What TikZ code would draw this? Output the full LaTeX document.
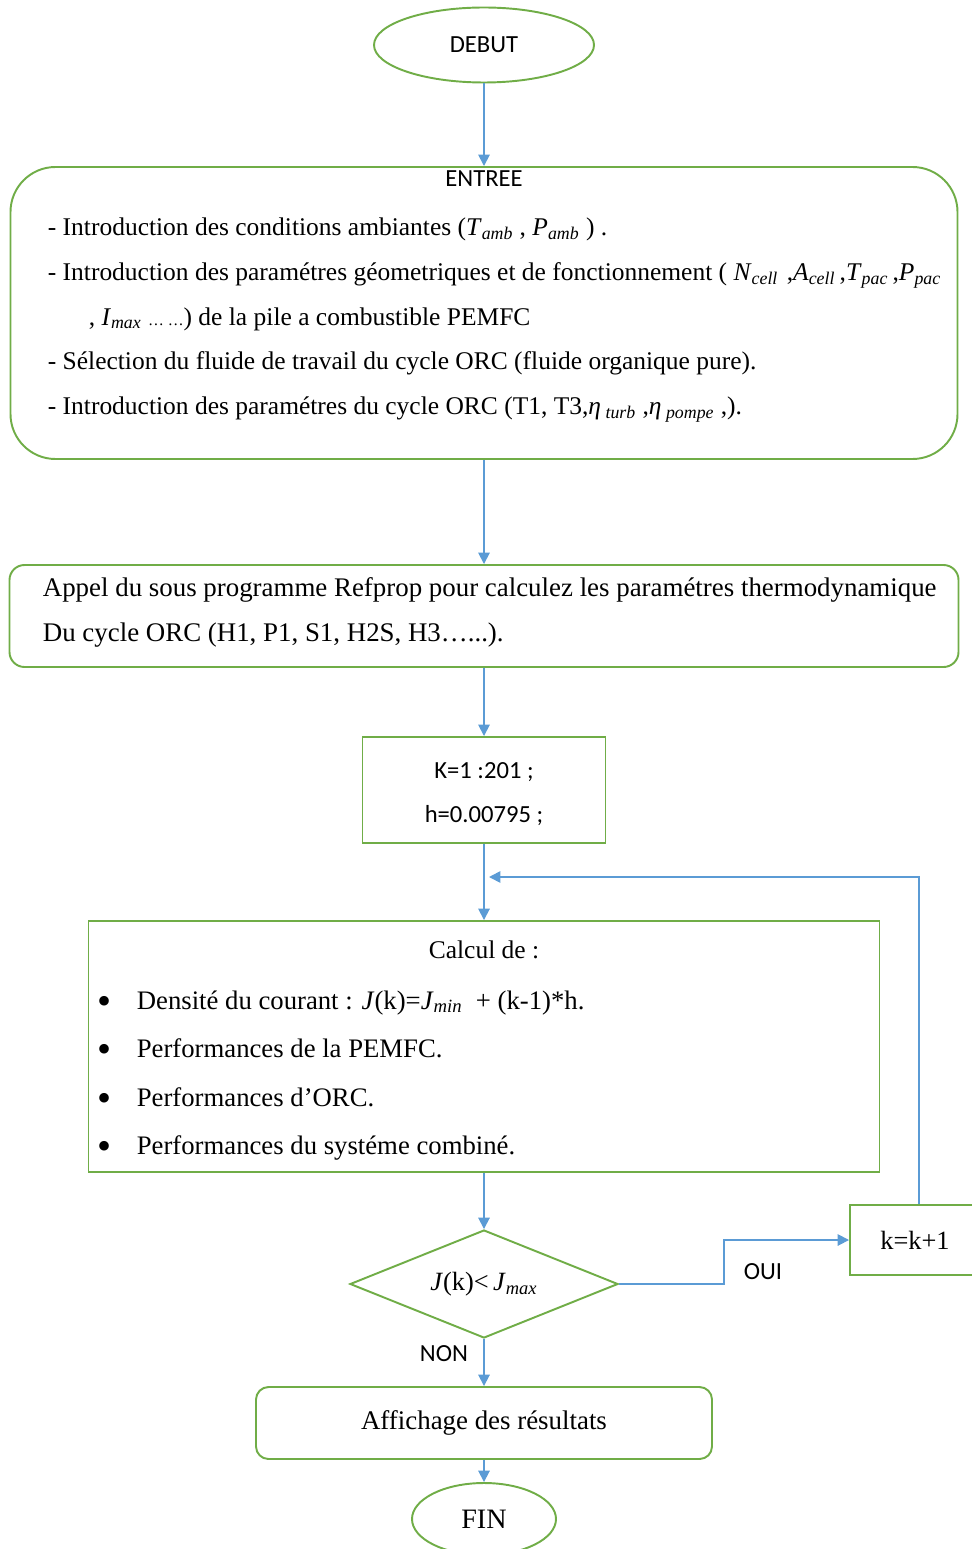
\documentclass[tikz,border=0pt]{standalone}
\usepackage{fontspec}
\setmainfont{Liberation Serif}
\newfontfamily\sansc{Carlito}
\usetikzlibrary{shapes.geometric,arrows.meta}
\definecolor{vert}{RGB}{112,173,71}
\definecolor{bleu}{RGB}{91,155,213}
\newcommand{\grandeur}[2]{\textit{#1}\textsubscript{\textit{#2}}}
\newcommand{\puce}{\makebox[0.78cm][l]{\raisebox{-0.4ex}{\scalebox{1.5}{•}}}}

\begin{document}
\begin{tikzpicture}[node distance=2cm, >={Triangle[length=6.5pt,width=6.5pt]},
    boite/.style={draw=vert, line width=1.1pt, rectangle, align=center},
    fleche/.style={->, draw=bleu, line width=1pt},
    serif/.style={font=\fontsize{14.5}{25.5}\selectfont, align=left, inner sep=0pt},
    sans/.style={font=\sansc\fontsize{14}{25.5}\selectfont, align=center, inner sep=0pt}]

    \useasboundingbox (0,0) rectangle (19.44,-30.98);

    % Nodes
    \node (debut) [boite, ellipse, minimum width=4.4cm, minimum height=1.5cm, sans] at (9.68,-0.9) {DEBUT};
    \node (entree) [boite, below of=debut, node distance=5.36cm, minimum width=18.94cm, minimum height=5.84cm, rounded corners=0.9cm] {};
    \node (refprop) [boite, below of=entree, node distance=6.06cm, minimum width=18.98cm, minimum height=2.04cm, rounded corners=0.3cm] {};
    \node (kbox) [boite, below of=refprop, node distance=3.48cm, minimum width=4.86cm, minimum height=2.12cm] {};
    \node (calcul) [boite, below of=kbox, node distance=5.13cm, minimum width=15.82cm, minimum height=5.02cm] {};
    \node (test) [boite, diamond, aspect=2.48, below of=calcul, node distance=4.75cm, minimum width=5.36cm, minimum height=2.16cm, inner sep=0pt, font=\fontsize{15}{18}\selectfont] {\textit{J}(k)<\,\grandeur{J}{max}};
    \node (affiche) [boite, below of=test, node distance=2.78cm, minimum width=9.12cm, minimum height=1.44cm, rounded corners=0.25cm, font=\fontsize{15.3}{19}\selectfont] {Affichage des résultats};
    \node (fin) [boite, ellipse, below of=affiche, node distance=1.92cm, minimum width=2.88cm, minimum height=1.44cm, font=\fontsize{16}{19}\selectfont] {FIN};
    \node (kinc) [boite, right of=test, node distance=8.62cm, yshift=0.88cm, minimum width=2.6cm, minimum height=1.4cm, font=\fontsize{15}{18}\selectfont] {k=k+1};

    % Texts
    \node (titre) [sans] at ([yshift=-0.26cm]entree.north) {ENTREE};
    \node (entreetxt) [serif, anchor=west] at ([xshift=0.76cm, yshift=-0.14cm]entree.west) {%
        - Introduction des conditions ambiantes (\grandeur{T}{amb} , \grandeur{P}{amb} ) .\\
        - Introduction des paramétres géometriques et de fonctionnement ( \grandeur{N}{cell}\,\,,\grandeur{A}{cell}\,,\grandeur{T}{pac}\,,\grandeur{P}{pac}\\
        \hspace*{0.82cm}, \grandeur{I}{max}\ {\small… …}) de la pile a combustible PEMFC\\
        - Sélection du fluide de travail du cycle ORC (fluide organique pure).\\
        - Introduction des paramétres du cycle ORC (T1, T3,\textit{η}\textsubscript{\textit{ turb}} ,\textit{η}\textsubscript{\textit{ pompe}} ,).};
    \node (refproptxt) [serif, anchor=west, font=\fontsize{15.3}{25.5}\selectfont] at ([xshift=0.68cm, yshift=0.07cm]refprop.west) {%
        Appel du sous programme Refprop pour calculez les paramétres thermodynamique\\
        Du cycle ORC (H1, P1, S1, H2S, H3…...).};
    \node (ktxt) [sans] at ([yshift=-0.08cm]kbox.center) {K=1 :201 ;\\h=0.00795 ;};
    \node (calcultitre) [serif] at ([yshift=-0.6cm]calcul.north) {Calcul de :};
    \node (calcultxt) [serif, anchor=west, font=\fontsize{15.2}{27.6}\selectfont] at ([xshift=0.2cm, yshift=-0.58cm]calcul.west) {%
        \puce Densité du courant : \textit{J}(k)=\grandeur{J}{min}\ \ + (k-1)*h.\\
        \puce Performances de la PEMFC.\\
        \puce Performances d’ORC.\\
        \puce Performances du systéme combiné.};

    \coordinate[right of=test, node distance=4.8cm] (coude);
    \coordinate[below of=kbox, node distance=1.74cm, xshift=0.1cm] (retour);
    \node (oui) [sans, right of=coude, node distance=0.78cm, yshift=0.24cm] {OUI};
    \node (non) [sans, below of=test, node distance=1.4cm, xshift=-0.8cm] {NON};

    % Arrows
    \draw[fleche] (debut) -- (entree);
    \draw[fleche] (entree) -- (refprop);
    \draw[fleche] (refprop) -- (kbox);
    \draw[fleche] (kbox) -- (calcul);
    \draw[fleche] (calcul) -- (test);
    \draw[fleche] (test) -- (affiche);
    \draw[fleche] (affiche) -- (fin);
    \draw[fleche] (test.east) -- (coude) |- (kinc.west);
    \draw[fleche] ([xshift=0.08cm]kinc.north) |- (retour);

\end{tikzpicture}
\end{document}
